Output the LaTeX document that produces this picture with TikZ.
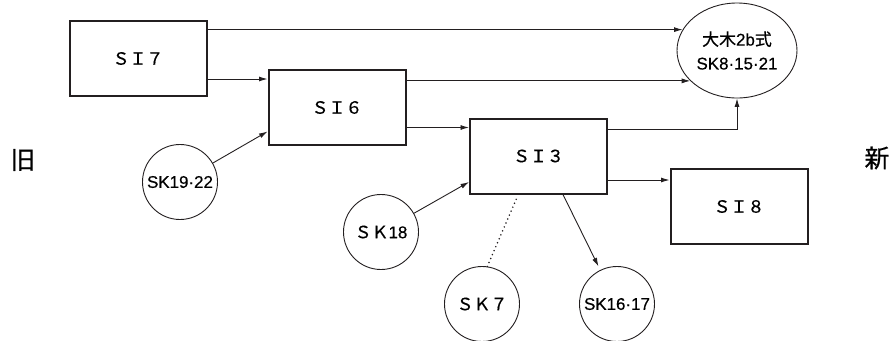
\documentclass[tikz,border=0pt]{standalone}
\usepackage{fontspec}
\setmainfont{Liberation Sans}[FakeBold=0.4]
\newfontfamily\cjk{Noto Sans CJK JP}[FakeBold=0.6]
\usetikzlibrary{arrows.meta,shapes.geometric}
\definecolor{ink}{RGB}{35,31,32}
\begin{document}
\begin{tikzpicture}[x=1bp,y=-1bp,
  box/.style={draw=ink,line width=2bp,minimum width=137bp,minimum height=75bp,inner sep=0pt,font=\cjk\fontsize{17}{20}\selectfont},
  ring/.style={draw=ink,line width=0.9bp,circle,minimum size=75bp,inner sep=0pt,font=\fontsize{17}{20}\selectfont},
  link/.style={draw=ink,line width=0.9bp,-{Latex[length=8.5bp,width=5bp]}},
  dots/.style={draw=ink,line width=1.7bp,line cap=round,dash pattern=on 0bp off 4.3bp}]
\useasboundingbox (0,0) rectangle (892,340);
\node[box] (SI7) at (138,58.5) {ＳＩ７};
\node[box] (SI6) at (337,107.5) {ＳＩ６};
\node[box] (SI3) at (538.5,156) {ＳＩ３};
\node[box] (SI8) at (739,206.5) {ＳＩ８};
\node[draw=ink,line width=0.9bp,ellipse,minimum width=120bp,minimum height=95bp,inner sep=0pt,
  align=center,font=\fontsize{17}{24}\selectfont] (OG) at (737,50.5) {{\cjk 大木}2b{\cjk 式}\\SK8·15·21};
\node[ring] (SK1922) at (180,182) {SK19·22};
\node[ring] (SK18) at (381,232) {{\cjk ＳＫ}18};
\node[ring] (SK7) at (482,304) {{\cjk ＳＫ７}};
\node[ring] (SK1617) at (617,304) {SK16·17};
\node[font=\cjk\fontsize{25}{25}\selectfont] (old) at (23,160) {旧};
\node[font=\cjk\fontsize{25}{25}\selectfont] (new) at (877,158) {新};
\coordinate (in6) at ([yshift=-10bp]SI6.north west);
\coordinate (in3) at ([yshift=-10bp]SI3.north west);
\coordinate (in8) at ([yshift=-12bp]SI8.north west);
\draw[link] (OG.159 -| SI7.east) -- (OG.159);
\draw[link] (in6 -| SI7.east) -- (in6);
\draw[link] (OG.213 -| SI6.east) -- (OG.213);
\draw[link] (in3 -| SI6.east) -- (in3);
\draw[link] ([yshift=-12bp]SI3.north east) -| (OG.south);
\draw[link] (in8 -| SI3.east) -- (in8);
\draw[link] (SK1922) -- ([yshift=-24bp]SI6.west);
\draw[link] (SK18) -- ([yshift=-26bp]SI3.west);
\draw[dots] (SK7.82) -- ([xshift=-22bp,yshift=-4bp]SI3.south);
\draw[link,shorten >=4bp] ([xshift=24.5bp]SI3.south) -- (SK1617);
\end{tikzpicture}
\end{document}
